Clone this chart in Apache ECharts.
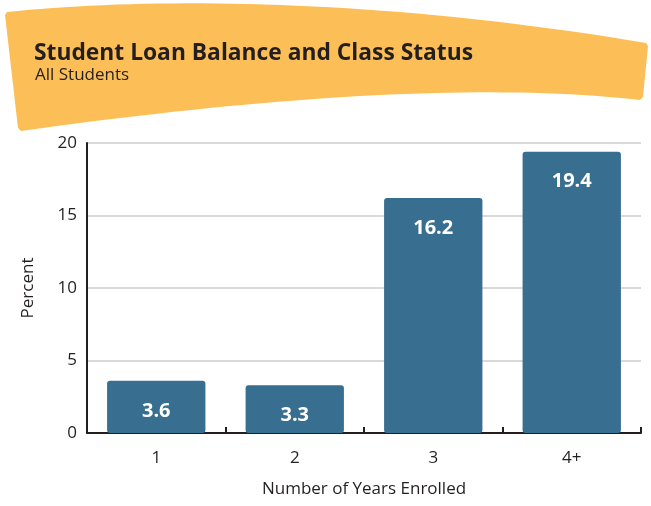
<!DOCTYPE html>
<html><head><meta charset="utf-8">
<script src="https://cdn.jsdelivr.net/npm/echarts@6/dist/echarts.min.js"></script>
<style>html,body{margin:0;padding:0;background:#fff}#c{width:651px;height:506px}</style>
</head><body><div id="c"></div>
<script>
const titleText = "Student Loan Balance and Class Status";
const subtitleText = "All Students";
const categories = ["1", "2", "3", "4+"];
const values = [3.6, 3.3, 16.2, 19.4];
const yTicks = [0, 5, 10, 15, 20];
const xName = "Number of Years Enrolled";
const yName = "Percent";

const FONT = "Open Sans";

// banner outline (decoration) sampled from bezier curves
function cubic(p0, p1, p2, p3, n) {
  const pts = [];
  for (let i = 0; i <= n; i++) {
    const t = i / n, u = 1 - t;
    pts.push([
      u*u*u*p0[0] + 3*u*u*t*p1[0] + 3*u*t*t*p2[0] + t*t*t*p3[0],
      u*u*u*p0[1] + 3*u*u*t*p1[1] + 3*u*t*t*p2[1] + t*t*t*p3[1]
    ]);
  }
  return pts;
}
function quad(p0, p1, p2, n) {
  const pts = [];
  for (let i = 0; i <= n; i++) {
    const t = i / n, u = 1 - t;
    pts.push([u*u*p0[0] + 2*u*t*p1[0] + t*t*p2[0], u*u*p0[1] + 2*u*t*p1[1] + t*t*p2[1]]);
  }
  return pts;
}
const bannerPts = [].concat(
  cubic([7,12],[150,-3],[380,-2],[646,43], 40),
  [[648,46],[643,97]],
  quad([640,100],[420,75],[21,131], 40),
  [[18,128],[5,15]]
);

const chart = echarts.init(document.getElementById('c'), null, {renderer: 'canvas'});
chart.setOption({
  animation: false,
  backgroundColor: '#fff',
  textStyle: {fontFamily: FONT},
  graphic: [
    {type: 'polygon', z: 0, shape: {points: bannerPts}, style: {fill: '#fcbf58'}},
    {type: 'text', x: 34, y: 54, z: 2,
     style: {text: titleText, font: 'bold 22.8px "Open Sans"', fill: '#231f20', textVerticalAlign: 'middle', verticalAlign: 'middle'}},
    {type: 'text', x: 35, y: 75, z: 2,
     style: {text: subtitleText, font: '17px "Open Sans"', fill: '#231f20', textVerticalAlign: 'middle', verticalAlign: 'middle'}}
  ],
  grid: {left: 87, right: 10, top: 143, bottom: 73, containLabel: false},
  xAxis: {
    type: 'category', data: categories,
    name: xName, nameLocation: 'middle', nameGap: 48,
    nameTextStyle: {fontSize: 17, color: '#231f20', fontFamily: FONT},
    axisLine: {lineStyle: {color: '#231f20', width: 2}},
    axisTick: {show: true, inside: true, length: 6, lineStyle: {color: '#231f20', width: 2}},
    axisLabel: {fontSize: 17, color: '#231f20', margin: 17, fontFamily: FONT}
  },
  yAxis: {
    type: 'value', min: yTicks[0], max: yTicks[yTicks.length-1], interval: 5,
    name: yName, nameLocation: 'middle', nameGap: 50,
    nameTextStyle: {fontSize: 17, color: '#231f20', fontFamily: FONT},
    axisLine: {show: true, lineStyle: {color: '#231f20', width: 2}},
    axisTick: {show: false},
    axisLabel: {fontSize: 17, color: '#231f20', margin: 10, fontFamily: FONT, padding: [6, 0, 0, 0]},
    splitLine: {lineStyle: {color: '#d9d9d9', width: 2}}
  },
  series: [{
    type: 'bar', data: values, barWidth: '71%',
    itemStyle: {color: '#386e8f', borderRadius: 3},
    label: {show: true, position: 'insideTop', distance: 20,
      color: '#fff', fontWeight: 'bold', fontSize: 20, fontFamily: FONT,
      formatter: p => p.value.toFixed(1)}
  }]
});
</script></body></html>
